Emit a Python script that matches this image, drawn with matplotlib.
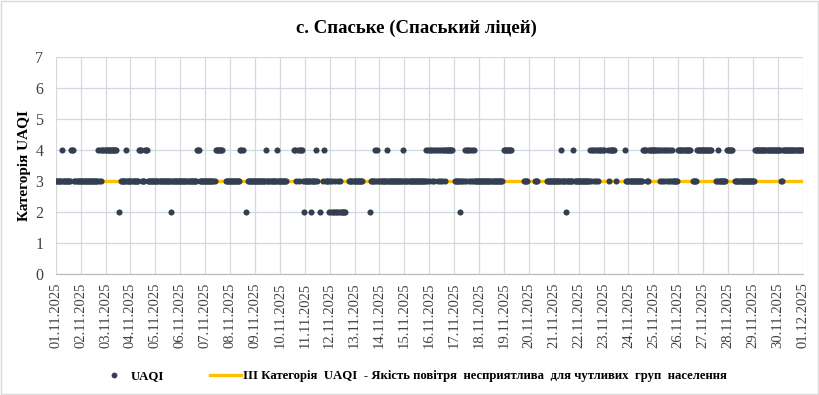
import numpy as np
import matplotlib
matplotlib.use("Agg")
import matplotlib.pyplot as plt
from matplotlib.lines import Line2D
from matplotlib.patches import Rectangle
from matplotlib.font_manager import FontProperties

# ---------------- data ----------------
title = "с. Спаське (Спаський ліцей)"
y_label = "Категорія UAQI"
series_label = "UAQI"
level_label = "ІІІ Категорія  UAQI  - Якість повітря  несприятлива  для чутливих  груп  населення"

date_labels = [
    "01.11.2025", "02.11.2025", "03.11.2025", "04.11.2025", "05.11.2025",
    "06.11.2025", "07.11.2025", "08.11.2025", "09.11.2025", "10.11.2025",
    "11.11.2025", "12.11.2025", "13.11.2025", "14.11.2025", "15.11.2025",
    "16.11.2025", "17.11.2025", "18.11.2025", "19.11.2025", "20.11.2025",
    "21.11.2025", "22.11.2025", "23.11.2025", "24.11.2025", "25.11.2025",
    "26.11.2025", "27.11.2025", "28.11.2025", "29.11.2025", "30.11.2025",
    "01.12.2025",
]

# hourly UAQI category per day (24 values, '-' = no data), groups of 6 hours
uaqi_hourly_by_day = [
    "333333 433333 333444 333333",  # 01.11
    "333333 333333 333334 343444",  # 02.11
    "444444 44444- -2-333 334333",  # 03.11
    "333333 334443 334443 333333",  # 04.11
    "333333 333333 333233 333333",  # 05.11
    "333333 333333 333344 433333",  # 06.11
    "333333 333344 44444- --3333",  # 07.11
    "333333 333344 4--2-3 333333",  # 08.11
    "333333 333334 333333 333433",  # 09.11
    "333333 3----- --4434 344432",  # 10.11
    "333333 233334 3--2-- 343332",  # 11.11
    "323223 223232 2222-- -33333",  # 12.11
    "333333 33---- ---233 334343",  # 13.11
    "333333 343333 333333 333334",  # 14.11
    "333333 333333 333333 333434",  # 15.11
    "344343 443434 344344 44444-",  # 16.11
    "-33333 233343 443434 343333",  # 17.11
    "333333 333333 333333 33333-",  # 18.11
    "444444 44---- ------ -3333-",  # 19.11
    "------ 333--- -----3 333333",  # 20.11
    "333333 343333 233333 343333",  # 21.11
    "333333 333334 344343 434444",  # 22.11
    "4---43 44444- 3----- ---433",  # 23.11
    "333333 333333 334444 334444",  # 24.11
    "444444 343434 434343 433333",  # 25.11
    "444444 444444 --3333 444444",  # 26.11
    "444444 444--- 334333 3333-4",  # 27.11
    "44444- -33333 333333 333333",  # 28.11
    "334444 444444 444444 444444",  # 29.11
    "444334 444444 444444 444444",  # 30.11
]

category_iii_level = 3
y_ticks = [0, 1, 2, 3, 4, 5, 6, 7]

# ---------------- build ----------------
values = []
for day in uaqi_hourly_by_day:
    for ch in day.replace(" ", ""):
        values.append(np.nan if ch == "-" else float(ch))
values = np.array(values)
n_days = len(uaqi_hourly_by_day)
x_pos = np.arange(len(values)) / 24.0

serif = "Liberation Serif"
plt.rcParams["font.family"] = [serif, "DejaVu Serif"]

dot_color = "#333F50"
line_color = "#FFC000"

fig = plt.figure(figsize=(8.2, 3.95), dpi=100)
ax = fig.add_axes([0.068, 0.306, 0.911, 0.550])

ax.plot([0, n_days], [category_iii_level, category_iii_level],
        color=line_color, lw=2.4, zorder=2, solid_capstyle="butt")
ax.plot(x_pos, values, linestyle="none", marker="o", markersize=4.4,
        color=dot_color, markeredgewidth=0, zorder=3)

ax.set_xlim(0, n_days)
ax.set_ylim(0, 7)
ax.set_yticks(y_ticks)
ax.set_yticklabels([str(v) for v in y_ticks], fontsize=11.5, color="#404040")
ax.set_xticks(np.arange(len(date_labels)))
ax.set_xticklabels(date_labels, rotation=90, fontsize=10.5, color="#404040")
ax.tick_params(axis="both", length=0)
ax.tick_params(axis="y", pad=9)
ax.tick_params(axis="x", pad=6)

ax.grid(axis="x", color="#D9D9D9", lw=0.9, zorder=0)
ax.grid(axis="y", color="#D0D8E4", lw=0.9, zorder=0)
for side in ["top", "right", "left"]:
    ax.spines[side].set_visible(False)
ax.spines["bottom"].set_color("#BFBFBF")
ax.spines["bottom"].set_linewidth(0.9)
ax.set_axisbelow(True)

ax.set_ylabel(y_label, fontsize=11, fontweight="bold", labelpad=3)

fig.text(0.508, 0.928, title, ha="center", va="center",
         fontsize=13.5, fontweight="bold")

handles = [
    Line2D([], [], linestyle="none", marker="o", markersize=4.2,
           color=dot_color, markeredgewidth=0),
    Line2D([], [], color=line_color, lw=2.4),
]
fig.legend(handles, [series_label, level_label], loc="center",
           bbox_to_anchor=(0.503, 0.048), ncol=2, frameon=False,
           prop=FontProperties(family=serif, weight="bold", size=9.2),
           columnspacing=3.6, handlelength=2.4, handletextpad=0.15)

fig.add_artist(Rectangle((0.001, 0.002), 0.997, 0.995, transform=fig.transFigure,
                         fill=False, edgecolor="#D9D9D9", lw=1.0))

fig.savefig("out.png", dpi=100)
